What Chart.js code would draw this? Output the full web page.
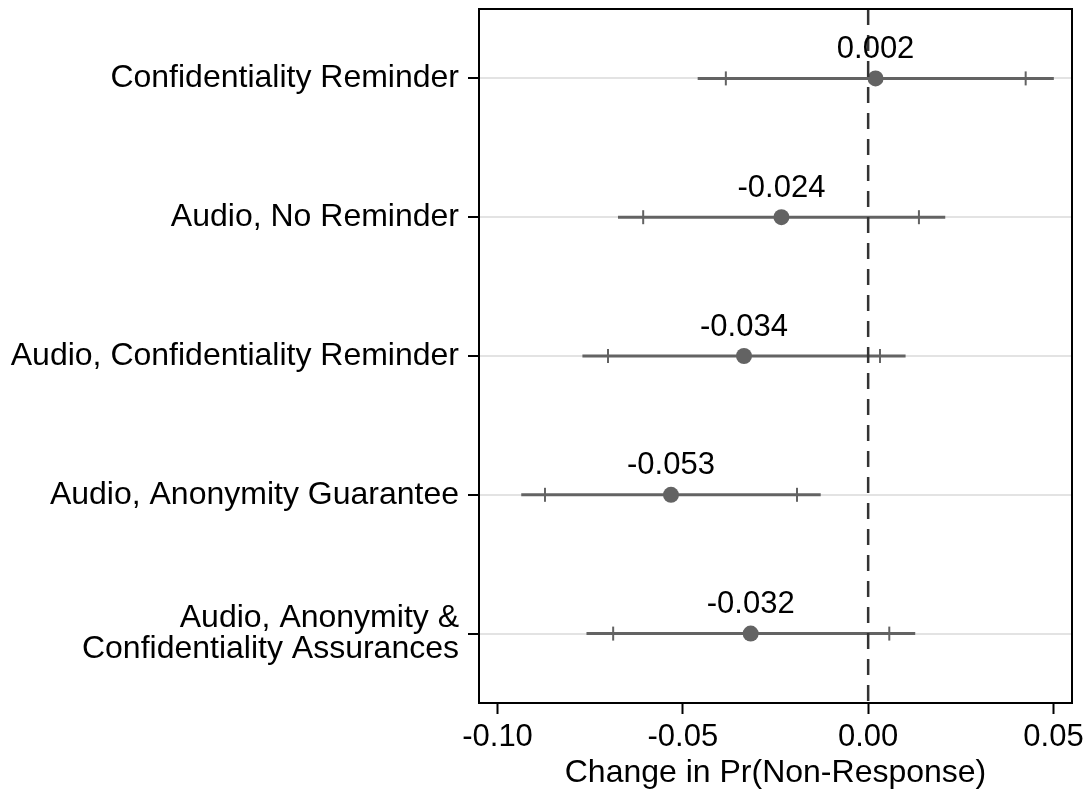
<!DOCTYPE html>
<html>
<head>
<meta charset="utf-8">
<script src="https://cdn.jsdelivr.net/npm/chart.js@4.4.1/dist/chart.umd.min.js"></script>
<style>
  html, body { margin: 0; padding: 0; background: #fff; }
  #wrap { width: 1089px; height: 789px; }
</style>
</head>
<body>
<div id="wrap"><canvas id="plot" width="1089" height="789"></canvas></div>
<script>
const categories = [
    'Confidentiality Reminder',
    'Audio, No Reminder',
    'Audio, Confidentiality Reminder',
    'Audio, Anonymity Guarantee',
    'Audio, Anonymity & Confidentiality Assurances'
];
const estimates = [0.0020, -0.0234, -0.0335, -0.0532, -0.0317];
const estLabels = ['0.002', '-0.024', '-0.034', '-0.053', '-0.032'];
const lo95 = [-0.0460, -0.0675, -0.0771, -0.0936, -0.0760];
const hi95 = [0.0501, 0.0208, 0.0101, -0.0128, 0.0127];
const lo90 = [-0.0384, -0.0607, -0.0702, -0.0872, -0.0688];
const hi90 = [0.0425, 0.0137, 0.0032, -0.0192, 0.0057];
const xTicks = [-0.10, -0.05, 0.00, 0.05];

const FONT = '"Liberation Sans", Arial, Helvetica, sans-serif';
const GREY = '#636363';

// one line per row for the 95% interval
const ciSets = categories.map((c, i) => ({
    data: [{x: lo95[i], y: c}, {x: hi95[i], y: c}],
    showLine: true,
    borderColor: GREY,
    borderWidth: 3,
    pointRadius: 0,
    order: 3
}));

// small bars at the 90% interval
const whiskers = {
    data: categories.flatMap((c, i) => [{x: lo90[i], y: c}, {x: hi90[i], y: c}]),
    pointStyle: 'line',
    rotation: 90,
    pointRadius: 7,
    borderColor: GREY,
    borderWidth: 2,
    order: 2
};

const points = {
    data: estimates.map((v, i) => ({x: v, y: categories[i]})),
    pointRadius: 8,
    backgroundColor: GREY,
    borderColor: GREY,
    borderWidth: 0,
    order: 1
};

const overlay = {
    id: 'overlay',
    afterDatasetsDraw(chart) {
        const ctx = chart.ctx, a = chart.chartArea;
        const xs = chart.scales.x, ys = chart.scales.y;
        ctx.save();
        // reference line at zero
        ctx.strokeStyle = '#333';
        ctx.lineWidth = 2.5;
        ctx.setLineDash([16, 10]);
        const zx = xs.getPixelForValue(0);
        ctx.beginPath();
        ctx.moveTo(zx, a.top);
        ctx.lineTo(zx, a.bottom);
        ctx.stroke();
        ctx.setLineDash([]);

        // value labels
        ctx.fillStyle = '#000';
        ctx.font = '31px ' + FONT;
        ctx.textAlign = 'center';
        ctx.textBaseline = 'middle';
        estimates.forEach((v, i) => {
            ctx.fillText(estLabels[i], xs.getPixelForValue(v), ys.getPixelForValue(i) - 29);
        });

        // plot frame
        ctx.strokeStyle = '#000';
        ctx.lineWidth = 2;
        ctx.strokeRect(a.left, a.top, a.right - a.left, a.bottom - a.top);
        ctx.restore();
    }
};

new Chart(document.getElementById('plot'), {
    type: 'scatter',
    data: { datasets: [...ciSets, whiskers, points] },
    options: {
        responsive: false,
        animation: false,
        layout: { padding: { top: 9, right: 17, left: 0, bottom: 0 } },
        plugins: { legend: { display: false }, tooltip: { enabled: false } },
        scales: {
            x: {
                type: 'linear',
                min: -0.105,
                max: 0.055,
                afterBuildTicks: s => { s.ticks = xTicks.map(v => ({value: v})); },
                afterFit: s => { s.height = 86; s.paddingLeft = 0; s.paddingRight = 0; },
                border: { display: false },
                grid: {
                    drawOnChartArea: false,
                    tickLength: 11,
                    tickColor: '#000',
                    tickWidth: 2
                },
                ticks: {
                    color: '#000',
                    font: { family: FONT, size: 31 },
                    padding: 5,
                    maxRotation: 0,
                    callback: v => v.toFixed(2)
                },
                title: {
                    display: true,
                    text: 'Change in Pr(Non-Response)',
                    color: '#000',
                    font: { family: FONT, size: 32, lineHeight: 1.0 },
                    padding: { top: 0, bottom: 0 }
                }
            },
            y: {
                type: 'category',
                labels: categories,
                offset: true,
                afterFit: s => { s.width = 479; s.paddingTop = 0; s.paddingBottom = 0; },
                border: { display: false },
                grid: {
                    offset: false,
                    color: '#e3e3e3',
                    lineWidth: 2,
                    tickLength: 11,
                    tickColor: '#000',
                    tickWidth: 2
                },
                ticks: {
                    color: '#000',
                    font: { family: FONT, size: 32, lineHeight: 0.95 },
                    padding: 9,
                    callback: function (v) {
                        const s = this.getLabelForValue(v);
                        const k = s.indexOf('& ');
                        return k < 0 ? s : [s.slice(0, k + 1), s.slice(k + 2)];
                    }
                }
            }
        }
    },
    plugins: [overlay]
});
</script>
</body>
</html>
